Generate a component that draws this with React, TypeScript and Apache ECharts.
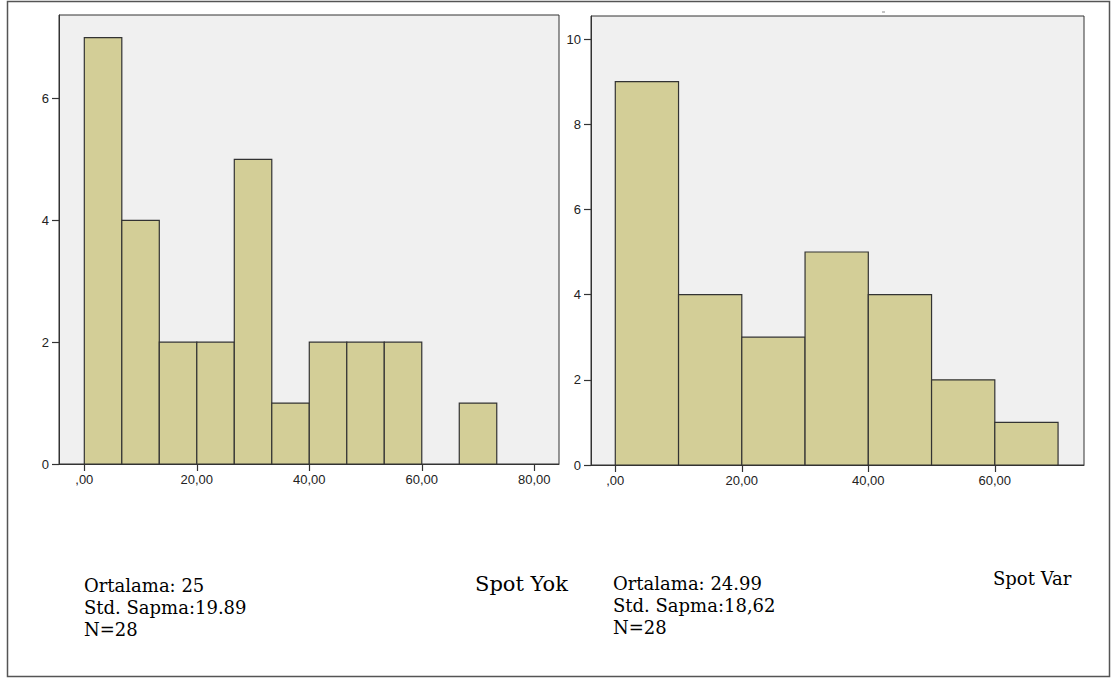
import React, { useEffect, useRef } from "react";
import * as echarts from "echarts";

// Left histogram (Spot Yok)
const leftBinEdges = [0, 6.667, 13.333, 20, 26.667, 33.333, 40, 46.667, 53.333, 60, 66.667, 73.333];
const leftCounts = [7, 4, 2, 2, 5, 1, 2, 2, 2, 0, 1];
const leftXTicks = [0, 20, 40, 60, 80];
const leftYTicks = [0, 2, 4, 6];

// Right histogram (Spot Var)
const rightBinEdges = [0, 10, 20, 30, 40, 50, 60, 70];
const rightCounts = [9, 4, 3, 5, 4, 2, 1];
const rightXTicks = [0, 20, 40, 60];
const rightYTicks = [0, 2, 4, 6, 8, 10];

// Texts
const leftStats = ["Ortalama: 25", "Std. Sapma:19.89", "N=28"];
const rightStats = ["Ortalama: 24.99", "Std. Sapma:18,62", "N=28"];
const leftTitle = "Spot Yok";
const rightTitle = "Spot Var";

const BAR_FILL = "#d3ce97";
const LINE = "#333333";

function binData(edges: number[], counts: number[]) {
  return counts.map((c, i) => [edges[i], edges[i + 1], c]);
}

function fmtX(v: number) {
  return v === 0 ? ",00" : `${v},00`;
}

export default function App() {
  const ref = useRef<HTMLDivElement>(null);
  useEffect(() => {
    if (!ref.current) return;
    const chart = echarts.init(ref.current, undefined, { renderer: "svg" });

    const renderItem = (params: any, api: any) => {
      const start = api.value(0);
      const end = api.value(1);
      const count = api.value(2);
      if (!count) return null;
      const p0 = api.coord([start, count]);
      const p1 = api.coord([end, 0]);
      return {
        type: "rect",
        shape: { x: p0[0], y: p0[1], width: p1[0] - p0[0], height: p1[1] - p0[1] },
        style: { fill: BAR_FILL, stroke: LINE, lineWidth: 1.2 },
      };
    };

    const axisLabel = { color: "#222", fontFamily: "Liberation Sans", fontSize: 13 };

    const xAxisCommon = (idx: number, min: number, max: number, ticks: number[]) => ({
      type: "value",
      gridIndex: idx,
      min,
      max,
      splitLine: { show: false },
      axisLine: { show: true, onZero: false, lineStyle: { color: LINE, width: 1 } },
      axisTick: { show: true, length: 7, customValues: ticks, lineStyle: { color: LINE, width: 1.2 } },
      axisLabel: { ...axisLabel, margin: 9, customValues: ticks, formatter: (v: number) => fmtX(v) },
    });
    const yAxisCommon = (idx: number, max: number, ticks: number[]) => ({
      type: "value",
      gridIndex: idx,
      min: 0,
      max,
      splitLine: { show: false },
      axisLine: { show: true, onZero: false, lineStyle: { color: LINE, width: 1 } },
      axisTick: { show: true, length: 7, customValues: ticks, lineStyle: { color: LINE, width: 1.2 } },
      axisLabel: { ...axisLabel, margin: 10, customValues: ticks, formatter: (v: number) => `${v}` },
    });

    const textStyle = (t: string, x: number, y: number, size: number) => ({
      type: "text",
      x,
      y,
      style: {
        text: t,
        fill: "#000",
        font: `${size}px "DejaVu Serif"`,
        align: "left",
        verticalAlign: "middle",
      },
    });

    chart.setOption({
      animation: false,
      backgroundColor: "#ffffff",
      grid: [
        { left: 59, top: 15, width: 500, height: 449, show: true, backgroundColor: "#f0f0f0", borderColor: LINE, borderWidth: 1 },
        { left: 591, top: 16, width: 493, height: 449, show: true, backgroundColor: "#f0f0f0", borderColor: LINE, borderWidth: 1 },
      ],
      xAxis: [xAxisCommon(0, -4.5, 84.4, leftXTicks), xAxisCommon(1, -3.84, 74.1, rightXTicks)],
      yAxis: [yAxisCommon(0, 7.37, leftYTicks), yAxisCommon(1, 10.54, rightYTicks)],
      series: [
        {
          type: "custom",
          xAxisIndex: 0,
          yAxisIndex: 0,
          renderItem,
          encode: { x: [0, 1], y: 2 },
          data: binData(leftBinEdges, leftCounts),
        },
        {
          type: "custom",
          xAxisIndex: 1,
          yAxisIndex: 1,
          renderItem,
          encode: { x: [0, 1], y: 2 },
          data: binData(rightBinEdges, rightCounts),
        },
      ],
      graphic: [
        {
          type: "rect",
          shape: { x: 7.5, y: 1.5, width: 1102, height: 675 },
          style: { fill: "none", stroke: "#555", lineWidth: 1.5 },
          silent: true,
        },
        {
          type: "line",
          shape: { x1: 882, y1: 12, x2: 885, y2: 12 },
          style: { stroke: "#888", lineWidth: 1 },
        },
        ...leftStats.map((t, i) => textStyle(t, 84, 585.7 + i * 22, 18)),
        ...rightStats.map((t, i) => textStyle(t, 613, 583.7 + i * 22, 18)),
        textStyle(leftTitle, 475, 584, 21),
        textStyle(rightTitle, 993, 578.5, 18),
      ],
    });
    return () => chart.dispose();
  }, []);
  return (
    <div
      ref={ref}
      style={{ position: "absolute", left: 0, top: 0, width: 1112, height: 679 }}
    />
  );
}
